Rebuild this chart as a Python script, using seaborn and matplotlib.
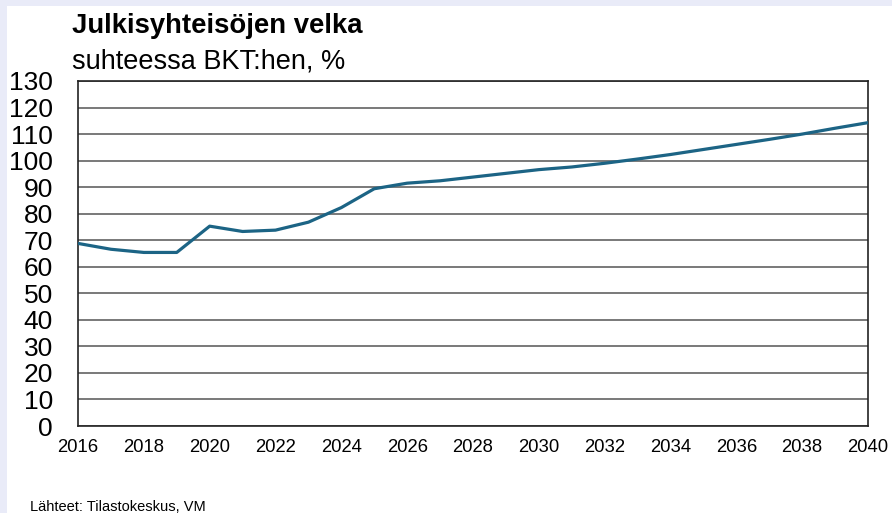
import numpy as np
import pandas as pd
import matplotlib
matplotlib.use("Agg")
import matplotlib.pyplot as plt
import seaborn as sns
from matplotlib.patches import Rectangle

# Julkisyhteisöjen velka, % BKT:sta (luettu kuvasta)
years = list(range(2016, 2041))
debt = [68.8, 66.6, 65.4, 65.4, 75.3, 73.3, 73.8, 76.8, 82.3, 89.4,
        91.5, 92.4, 93.8, 95.2, 96.6, 97.6, 99.0, 100.6, 102.3, 104.2,
        106.1, 108.0, 110.0, 112.2, 114.3]
x_ticks = list(range(2016, 2041, 2))
y_ticks = list(range(0, 131, 10))

df = pd.DataFrame({"vuosi": years, "velka": debt})

sns.set_theme(style="white")
plt.rcParams["font.family"] = ["Liberation Sans", "DejaVu Sans"]
plt.rcParams["text.color"] = "black"

fig = plt.figure(figsize=(8.92, 5.13), dpi=100)
fig.patch.set_facecolor("#e9ebf8")
# valkoinen paneeli
fig.patches.append(Rectangle((7 / 892, 0), 1, 1 - 6 / 513, transform=fig.transFigure,
                             facecolor="white", edgecolor="none", zorder=-5))

ax = fig.add_axes([78 / 892, 1 - 426 / 513, (868 - 78) / 892, (426 - 81) / 513])
ax.set_facecolor("white")

sns.lineplot(data=df, x="vuosi", y="velka", ax=ax, color="#1c6485", linewidth=2.3, zorder=3)

ax.set_xlim(2016, 2040)
ax.set_ylim(0, 130)
ax.set_xticks(x_ticks)
ax.set_yticks(y_ticks)
ax.grid(axis="y", color="#555555", linewidth=1.1)
ax.grid(axis="x", visible=False)
for s in ax.spines.values():
    s.set_color("#222222")
    s.set_linewidth(1.2)
ax.tick_params(axis="y", length=0, pad=18, labelsize=19, colors="black")
ax.tick_params(axis="x", length=0, pad=9, labelsize=13.3, colors="black")
ax.set_xlabel("")
ax.set_ylabel("")

fig.text(72 / 892, 1 - 33 / 513, "Julkisyhteisöjen velka", fontsize=19.8,
         fontweight="bold", va="baseline", ha="left")
fig.text(72 / 892, 1 - 68 / 513, "suhteessa BKT:hen, %", fontsize=19.5,
         va="baseline", ha="left")
fig.text(30 / 892, 1 - 511 / 513, "Lähteet: Tilastokeskus, VM", fontsize=10.5,
         va="baseline", ha="left")

fig.savefig("out.png", dpi=100, facecolor=fig.get_facecolor())
